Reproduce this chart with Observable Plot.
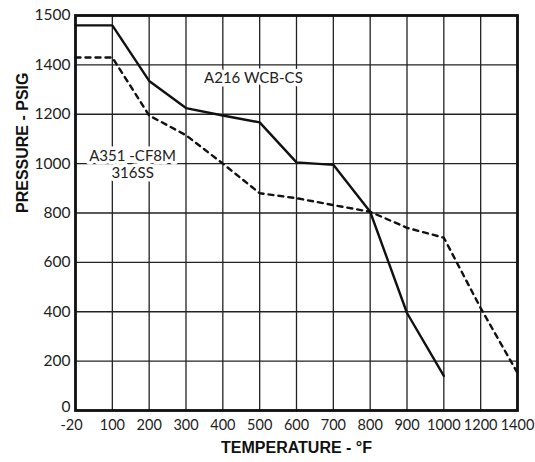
<!DOCTYPE html>
<html>
<head>
<meta charset="utf-8">
<script src="https://cdn.jsdelivr.net/npm/d3@7"></script>
<script src="https://cdn.jsdelivr.net/npm/@observablehq/plot@0.6"></script>
<style>
  html, body { margin: 0; padding: 0; background: #fff; }
  #chart { width: 535px; height: 462px; }
</style>
</head>
<body>
<div id="chart"></div>
<script>
// Temperature ticks (°F) — the chart spaces them evenly
const tempTicks = [-20, 100, 200, 300, 400, 500, 600, 700, 800, 900, 1000, 1200, 1400];
// Pressure ticks (psig) — evenly spaced gridlines, top cell is 1400→1500
const pressureTicks = [0, 200, 400, 600, 800, 1000, 1200, 1400, 1500];

// A216 WCB-CS (solid)
const wcbTemp = [-20, 100, 200, 300, 400, 500, 600, 700, 800, 900, 1000];
const wcbPressure = [1480, 1480, 1335, 1225, 1195, 1167, 1005, 995, 805, 395, 140];

// A351 -CF8M 316SS (dashed)
const cf8mTemp = [-20, 100, 200, 300, 400, 500, 600, 700, 800, 900, 1000, 1200, 1400];
const cf8mPressure = [1415, 1415, 1195, 1115, 1000, 880, 860, 832, 805, 740, 700, 415, 152];

// Annotation labels
const labels = [
  {t: 483, p: 1349, text: "A216 WCB-CS"},
  {t: 155, p: 998, text: "A351 -CF8M\n316SS"}
];

const wcb = wcbTemp.map((t, i) => ({t, p: wcbPressure[i]}));
const cf8m = cf8mTemp.map((t, i) => ({t, p: cf8mPressure[i]}));

const W = 535, H = 462;
const mL = 75, mR = 18, mT = 15, mB = 52;
const font = "'Lato', 'DejaVu Sans', sans-serif";
const fs = 15.5;

const chart = Plot.plot({
  width: W,
  height: H,
  marginLeft: mL,
  marginRight: mR,
  marginTop: mT,
  marginBottom: mB,
  style: {fontFamily: font, fontSize: fs + "px", color: "#222", background: "#fff", overflow: "visible"},
  x: {
    type: "linear",
    domain: tempTicks,
    range: d3.quantize(d3.interpolateNumber(mL, W - mR), tempTicks.length)
  },
  y: {
    type: "linear",
    domain: pressureTicks,
    range: d3.quantize(d3.interpolateNumber(H - mB, mT), pressureTicks.length)
  },
  marks: [
    Plot.gridX(tempTicks, {stroke: "#222", strokeOpacity: 1, strokeWidth: 1.3}),
    Plot.gridY(pressureTicks, {stroke: "#222", strokeOpacity: 1, strokeWidth: 1.3}),
    Plot.axisX(tempTicks.slice(1), {tickSize: 0, tickPadding: 9, label: null, fontSize: 14.5, fill: "#222", tickFormat: d => String(d)}),
    Plot.axisX(tempTicks.slice(0, 1), {tickSize: 0, tickPadding: 9, label: null, fontSize: 14.5, fill: "#222", dx: -4, tickFormat: d => String(d)}),
    Plot.axisY(pressureTicks.slice(1), {tickSize: 0, tickPadding: 5, label: null, fontSize: fs, fill: "#222", tickFormat: d => String(d)}),
    Plot.axisY(pressureTicks.slice(0, 1), {tickSize: 0, tickPadding: 5, label: null, fontSize: fs, fill: "#222", dy: -3, tickFormat: d => String(d)}),
    Plot.text(labels, {
      x: "t", y: "p", text: "text",
      fontSize: 15, fill: "#222", lineHeight: 1.15,
      stroke: "white", strokeWidth: 7, paintOrder: "stroke"
    }),
    Plot.line(cf8m, {x: "t", y: "p", stroke: "#111", strokeWidth: 2.4, strokeDasharray: "5,5"}),
    Plot.line(wcb, {x: "t", y: "p", stroke: "#111", strokeWidth: 2.4}),
    Plot.frame({stroke: "#111", strokeWidth: 2.8}),
    Plot.text(["TEMPERATURE - °F"], {
      frameAnchor: "bottom", dy: 42, text: d => d,
      fontWeight: "bold", fontSize: 16, fill: "#111",
      fontFamily: "'Liberation Sans', sans-serif"
    }),
    Plot.text(["PRESSURE - PSIG"], {
      frameAnchor: "left", dx: -53, rotate: -90, text: d => d,
      fontWeight: "bold", fontSize: 16, fill: "#111",
      fontFamily: "'Liberation Sans', sans-serif"
    })
  ]
});

document.getElementById("chart").appendChild(chart);
</script>
</body>
</html>
